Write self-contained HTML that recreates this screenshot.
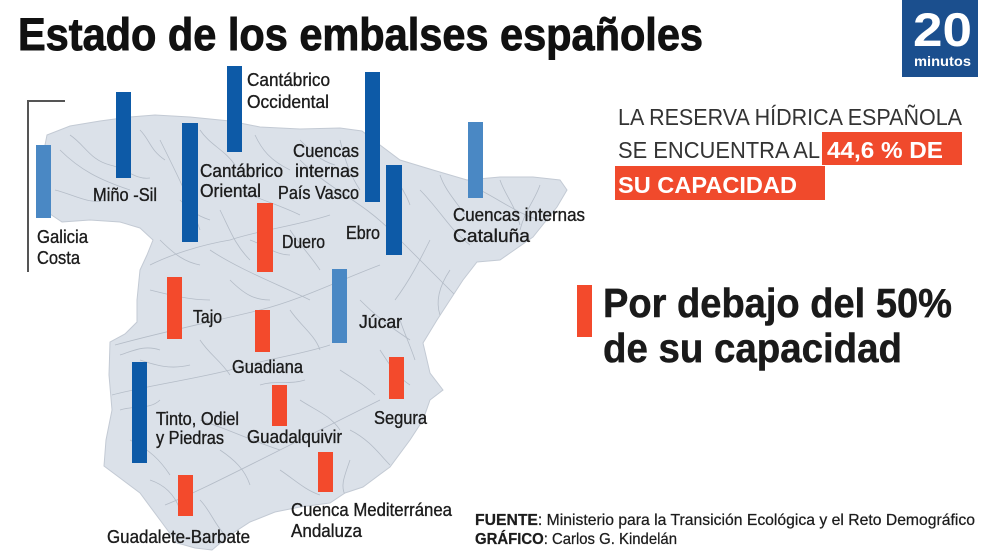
<!DOCTYPE html>
<html><head><meta charset="utf-8"><style>
html,body{margin:0;padding:0;background:#fff;}
svg{display:block;}
text{font-family:"Liberation Sans",sans-serif;}
</style></head><body>
<svg width="990" height="556" viewBox="0 0 990 556" xmlns="http://www.w3.org/2000/svg">
<defs>
<clipPath id="mp"><path d="M47,135 L70,126 L100,121 L130,117 L155,115 L190,117 L230,121 L260,127 L300,129 L340,128 L362,131 L380,145 L400,160 L433,170 L467,180 L500,177 L533,177 L560,180 L567,190 L557,207 L533,237 L500,260 L477,262 L463,280 L437,320 L423,343 L430,373 L443,390 L430,400 L423,420 L410,440 L390,467 L363,487 L345,493 L330,503 L300,507 L275,512 L250,522 L230,535 L212,550 L195,548 L177,543 L160,520 L140,493 L120,478 L104,466 L106,440 L112,410 L109,375 L110,342 L125,334 L137,322 L137,300 L140,270 L147,255 L153,240 L140,228 L120,222 L90,220 L62,222 L50,214 L45,195 L47,170 L44,150 Z"/></clipPath>
</defs>
<rect width="990" height="556" fill="#fff"/>
<!-- Title -->
<text x="18" y="50" font-size="45" font-weight="bold" fill="#111" stroke="#111" stroke-width="0.9" textLength="685" lengthAdjust="spacingAndGlyphs">Estado de los embalses españoles</text>
<!-- Logo -->
<rect x="902" y="0" width="76" height="77" fill="#1b4f8e"/>
<text x="913" y="46" font-size="47" font-weight="bold" fill="#fff" textLength="59" lengthAdjust="spacingAndGlyphs">20</text>
<text x="914" y="66" font-size="14" font-weight="bold" fill="#fff" textLength="57" lengthAdjust="spacingAndGlyphs">minutos</text>
<!-- Map -->
<path d="M47,135 L70,126 L100,121 L130,117 L155,115 L190,117 L230,121 L260,127 L300,129 L340,128 L362,131 L380,145 L400,160 L433,170 L467,180 L500,177 L533,177 L560,180 L567,190 L557,207 L533,237 L500,260 L477,262 L463,280 L437,320 L423,343 L430,373 L443,390 L430,400 L423,420 L410,440 L390,467 L363,487 L345,493 L330,503 L300,507 L275,512 L250,522 L230,535 L212,550 L195,548 L177,543 L160,520 L140,493 L120,478 L104,466 L106,440 L112,410 L109,375 L110,342 L125,334 L137,322 L137,300 L140,270 L147,255 L153,240 L140,228 L120,222 L90,220 L62,222 L50,214 L45,195 L47,170 L44,150 Z" fill="#dbe1e9" stroke="#c3cad4" stroke-width="1"/>
<g fill="none" stroke="#b4bcc7" stroke-width="0.8" clip-path="url(#mp)">
<path d="M300,160 C330,190 360,200 390,230 C410,250 430,270 455,295"/>
<path d="M330,215 C300,225 260,230 230,240 C200,245 170,255 150,265"/>
<path d="M380,265 C340,280 300,300 260,310 C220,320 170,330 115,345"/>
<path d="M330,345 C300,355 260,360 230,370 C190,380 150,385 112,395"/>
<path d="M380,400 C340,420 300,440 260,460 C220,480 190,495 165,505"/>
<path d="M60,150 C80,170 100,180 130,190"/>
<path d="M160,140 C175,170 190,200 200,230"/>
<path d="M210,250 C240,270 280,285 310,300"/>
<path d="M420,190 C440,210 450,230 470,245"/>
<path d="M480,190 C500,200 520,215 540,220"/>
<path d="M360,300 C380,320 395,330 410,340"/>
<path d="M350,430 C370,440 380,455 390,465"/>
<path d="M200,420 C230,430 250,440 280,450"/>
<path d="M130,440 C150,450 160,460 170,475"/>
<path d="M240,190 C260,200 280,205 300,215"/>
<path d="M430,240 C420,260 410,280 395,300"/>
<path d="M70,135 C85,145 90,160 110,165 C125,168 135,180 150,178"/>
<path d="M55,190 C75,195 90,205 105,200"/>
<path d="M140,130 C150,140 150,150 165,160"/>
<path d="M200,130 C210,145 225,150 235,165"/>
<path d="M255,135 C262,150 270,160 290,170"/>
<path d="M300,140 C310,150 318,160 335,165"/>
<path d="M340,140 C345,160 350,175 360,190"/>
<path d="M390,165 C395,180 405,190 410,205"/>
<path d="M440,175 C445,190 455,200 465,215"/>
<path d="M500,180 C505,195 515,205 520,225"/>
<path d="M540,185 C535,200 525,210 520,230"/>
<path d="M160,240 C175,255 185,262 200,265"/>
<path d="M220,210 C230,230 235,245 250,260"/>
<path d="M290,230 C300,245 310,255 320,270"/>
<path d="M150,290 C170,295 190,300 210,300"/>
<path d="M230,280 C245,295 255,300 270,300"/>
<path d="M290,310 C300,325 315,335 320,350"/>
<path d="M140,360 C155,365 170,370 190,365"/>
<path d="M200,340 C210,355 220,360 230,375"/>
<path d="M260,385 C275,380 290,385 305,380"/>
<path d="M340,370 C355,380 365,385 375,395"/>
<path d="M400,320 C405,335 410,345 415,360"/>
<path d="M380,350 C390,365 395,375 410,385"/>
<path d="M300,400 C315,410 330,415 340,430"/>
<path d="M220,450 C235,460 245,470 250,485"/>
<path d="M280,470 C295,480 305,490 320,495"/>
<path d="M350,460 C345,475 340,485 345,495"/>
<path d="M120,410 C135,405 150,410 160,400"/>
<path d="M150,480 C165,485 175,495 180,510"/>
<path d="M200,500 C210,510 215,525 225,535"/>
<path d="M450,270 C440,285 435,300 440,315"/>
<path d="M120,355 C135,350 145,345 160,350"/>
<path d="M250,240 C265,245 275,255 290,255"/>
<path d="M180,200 C190,210 195,215 210,220"/>
</g>
<!-- bracket -->
<path d="M65,101 L28,101 L28,272" fill="none" stroke="#555" stroke-width="2"/>
<!-- Bars -->
<g>
<rect x="36" y="145" width="15" height="73" fill="#4a88c4"/>
<rect x="116" y="92" width="15" height="86" fill="#0d5aa7"/>
<rect x="227" y="66" width="15" height="86" fill="#0d5aa7"/>
<rect x="182" y="123" width="16" height="119" fill="#0d5aa7"/>
<rect x="365" y="72" width="15" height="130" fill="#0d5aa7"/>
<rect x="386" y="165" width="16" height="90" fill="#0d5aa7"/>
<rect x="468" y="122" width="15" height="76" fill="#4a88c4"/>
<rect x="257" y="203" width="16" height="69" fill="#f34a2c"/>
<rect x="167" y="277" width="15" height="62" fill="#f34a2c"/>
<rect x="255" y="310" width="15" height="42" fill="#f34a2c"/>
<rect x="332" y="269" width="15" height="74" fill="#4a88c4"/>
<rect x="132" y="362" width="15" height="101" fill="#0d5aa7"/>
<rect x="272" y="385" width="15" height="41" fill="#f34a2c"/>
<rect x="389" y="357" width="15" height="42" fill="#f34a2c"/>
<rect x="318" y="452" width="15" height="40" fill="#f34a2c"/>
<rect x="178" y="475" width="15" height="41" fill="#f34a2c"/>
</g>
<!-- Labels -->
<g font-size="18" fill="#1c1c1c" stroke="#1c1c1c" stroke-width="0.35">
<text x="247" y="86" textLength="83" lengthAdjust="spacingAndGlyphs">Cantábrico</text>
<text x="247" y="108" textLength="82" lengthAdjust="spacingAndGlyphs">Occidental</text>
<text x="93" y="201" textLength="64" lengthAdjust="spacingAndGlyphs">Miño -Sil</text>
<text x="37" y="243" textLength="51" lengthAdjust="spacingAndGlyphs">Galicia</text>
<text x="37" y="264" textLength="43" lengthAdjust="spacingAndGlyphs">Costa</text>
<text x="200" y="177" textLength="83" lengthAdjust="spacingAndGlyphs">Cantábrico</text>
<text x="200" y="197" textLength="61" lengthAdjust="spacingAndGlyphs">Oriental</text>
<text x="359" y="157" text-anchor="end" textLength="66" lengthAdjust="spacingAndGlyphs">Cuencas</text>
<text x="359" y="177" text-anchor="end" textLength="64" lengthAdjust="spacingAndGlyphs">internas</text>
<text x="359" y="199" text-anchor="end" textLength="81" lengthAdjust="spacingAndGlyphs">País Vasco</text>
<text x="346" y="239" textLength="34" lengthAdjust="spacingAndGlyphs">Ebro</text>
<text x="282" y="248" textLength="43" lengthAdjust="spacingAndGlyphs">Duero</text>
<text x="453" y="221" textLength="132" lengthAdjust="spacingAndGlyphs">Cuencas internas</text>
<text x="453" y="242" textLength="77" lengthAdjust="spacingAndGlyphs">Cataluña</text>
<text x="193" y="323" textLength="29" lengthAdjust="spacingAndGlyphs">Tajo</text>
<text x="232" y="373" textLength="71" lengthAdjust="spacingAndGlyphs">Guadiana</text>
<text x="359" y="328" textLength="43" lengthAdjust="spacingAndGlyphs">Júcar</text>
<text x="156" y="425" textLength="83" lengthAdjust="spacingAndGlyphs">Tinto, Odiel</text>
<text x="156" y="444" textLength="68" lengthAdjust="spacingAndGlyphs">y Piedras</text>
<text x="247" y="443" textLength="95" lengthAdjust="spacingAndGlyphs">Guadalquivir</text>
<text x="374" y="424" textLength="53" lengthAdjust="spacingAndGlyphs">Segura</text>
<text x="291" y="516" textLength="161" lengthAdjust="spacingAndGlyphs">Cuenca Mediterránea</text>
<text x="291" y="537" textLength="71" lengthAdjust="spacingAndGlyphs">Andaluza</text>
<text x="107" y="543" textLength="143" lengthAdjust="spacingAndGlyphs">Guadalete-Barbate</text>
</g>
<!-- Right text -->
<rect x="822" y="132" width="140" height="33" fill="#f04a2c"/>
<rect x="615" y="166" width="210" height="34" fill="#f04a2c"/>
<text x="618" y="125" font-size="23.5" fill="#333" textLength="344" lengthAdjust="spacingAndGlyphs">LA RESERVA HÍDRICA ESPAÑOLA</text>
<text x="618" y="158" font-size="23.5" fill="#333" textLength="202" lengthAdjust="spacingAndGlyphs">SE ENCUENTRA AL</text>
<text x="827" y="158" font-size="23.5" font-weight="bold" fill="#fff" textLength="116" lengthAdjust="spacingAndGlyphs">44,6 % DE</text>
<text x="618" y="193" font-size="23.5" font-weight="bold" fill="#fff" textLength="179" lengthAdjust="spacingAndGlyphs">SU CAPACIDAD</text>
<!-- Legend -->
<rect x="577" y="285" width="15" height="52" fill="#f34a2c"/>
<text x="603" y="317" font-size="41" font-weight="bold" fill="#1a1a1a" stroke="#1a1a1a" stroke-width="0.5" textLength="349" lengthAdjust="spacingAndGlyphs">Por debajo del 50%</text>
<text x="603" y="362" font-size="41" font-weight="bold" fill="#1a1a1a" stroke="#1a1a1a" stroke-width="0.5" textLength="299" lengthAdjust="spacingAndGlyphs">de su capacidad</text>
<!-- Footer -->
<text x="475" y="525" font-size="16" fill="#1c1c1c" stroke="#1c1c1c" stroke-width="0.25" textLength="500" lengthAdjust="spacingAndGlyphs"><tspan font-weight="bold">FUENTE</tspan>: Ministerio para la Transición Ecológica y el Reto Demográfico</text>
<text x="475" y="544" font-size="16" fill="#1c1c1c" stroke="#1c1c1c" stroke-width="0.25" textLength="202" lengthAdjust="spacingAndGlyphs"><tspan font-weight="bold">GRÁFICO</tspan>: Carlos G. Kindelán</text>
</svg>
</body></html>
